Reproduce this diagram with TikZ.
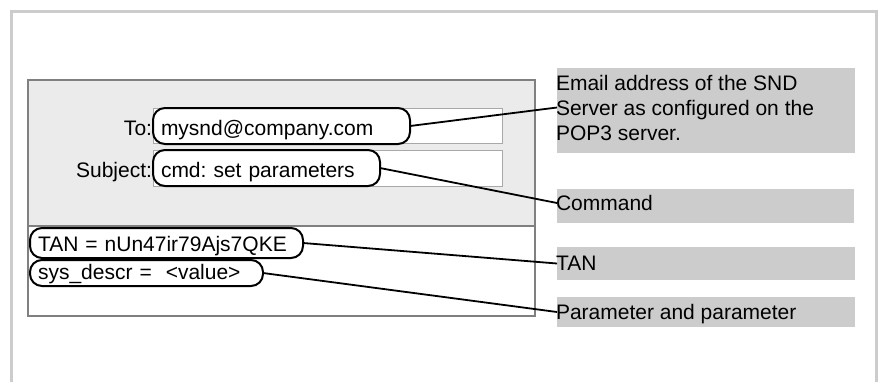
\documentclass[tikz,border=0pt]{standalone}
\usepackage{fontspec}
\setmainfont{Liberation Sans}
\frenchspacing
\definecolor{framegray}{HTML}{CCCCCC}
\definecolor{formfill}{HTML}{EBEBEB}
\definecolor{formborder}{HTML}{808080}
\definecolor{fieldborder}{HTML}{A8A8A8}
\definecolor{notefill}{HTML}{CCCCCC}
\begin{document}
\begin{tikzpicture}[x=1pt,y=-1pt,
  every node/.style={font=\fontsize{21}{25}\selectfont, inner sep=0pt, outer sep=0pt},
  fieldbox/.style={draw=fieldborder, line width=1pt, fill=white},
  pill/.style={draw=black, line width=2pt, rounded corners=12pt, inner xsep=8pt, inner ysep=0pt, align=left, anchor=north west},
  notebox/.style={fill=notefill, anchor=north west},
  notetext/.style={anchor=base west, align=left},
  connector/.style={draw=black, line width=1.8pt}
]
\useasboundingbox (0,0) rectangle (880,381);
% outer frame
\draw[framegray, line width=3pt] (11.5,382) -- (11.5,11) -- (876.5,11) -- (876.5,382);

% form
\fill[formfill] (28,80) rectangle (535,226);
\fill[white] (28,226) rectangle (535,316);
\draw[formborder, line width=1.6pt] (28,226) -- (535,226);
\draw[formborder, line width=2pt] (28,80) rectangle (535,316);

% input fields
\node[fieldbox, anchor=north west, minimum width=349pt, minimum height=35pt] (tofield) at (153,108) {};
\node[fieldbox, anchor=north west, minimum width=349pt, minimum height=36pt] (subjfield) at (153,150) {};

% labels
\node[anchor=base east] (tolabel) at (152,135.5) {To:};
\node[anchor=base east] (subjlabel) at (152,177) {Subject:};

% pills
\node[pill, text width=241pt, text height=27.5pt, text depth=8.5pt] (topill) at (153,108) {mysnd@company.com};
\node[pill, text width=211pt, text height=27pt, text depth=9pt] (subjpill) at (153,150) {cmd: set parameters};
\node[pill, text width=257pt, text height=23.7pt, text depth=6.3pt] (tanpill) at (30,228) {TAN = nUn47ir79Ajs7QKE};
\node[pill, text width=217pt, text height=19.3pt, text depth=6.7pt] (syspill) at (30,260) {sys\_descr =\ \ <value>};

% note boxes
\node[notebox, minimum width=298pt, minimum height=85pt] (note1) at (557,68) {};
\node[notebox, minimum width=297pt, minimum height=34pt] (note2) at (557,189) {};
\node[notebox, minimum width=298pt, minimum height=33pt] (note3) at (557,247) {};
\node[notebox, minimum width=298pt, minimum height=30pt] (note4) at (557,297) {};

\node[notetext] (note1text) at (556,140) {Email address of the SND\\Server as configured on the\\POP3 server.};
\node[notetext] (note2text) at (556,210) {Command};
\node[notetext] (note3text) at (556,270) {TAN};
\node[notetext] (note4text) at (556,319) {Parameter and parameter};

% connectors
\draw[connector] (topill.east) -- ([yshift=3pt]note1.west);
\draw[connector] (subjpill.east) -- ([yshift=3pt]note2.west);
\draw[connector] (tanpill.east) -- (note3.west);
\draw[connector] (syspill.east) -- (note4.west);
\end{tikzpicture}
\end{document}
